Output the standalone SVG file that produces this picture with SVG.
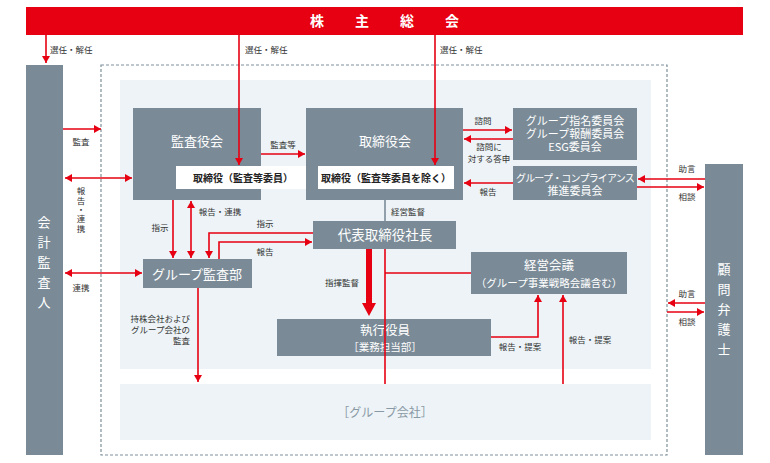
<svg xmlns="http://www.w3.org/2000/svg" width="770" height="463" viewBox="0 0 770 463">
<defs>
<marker id="ah" markerUnits="userSpaceOnUse" markerWidth="9" markerHeight="9" refX="7" refY="4" orient="auto-start-reverse"><path d="M0,0 L7,4 L0,8 z" fill="#e60012"/></marker>
<style>
.box{fill:#7a8b97}
.sub{fill:#ffffff}
.panel{fill:#edf3f7}
.ln{stroke:#e60012;stroke-width:1.6;fill:none}
.gl{stroke:#7a8b97;stroke-width:1.6;fill:none}
text{font-family:"Noto Sans CJK JP","Noto Sans",sans-serif}
.lbl{font-size:8.5px;fill:#333333}
.t{fill:#ffffff;font-size:13px;text-anchor:middle}
.s{fill:#222222;font-size:10px;font-weight:bold;text-anchor:middle}
.c{text-anchor:middle}
</style>
</defs>
<rect width="770" height="463" fill="#ffffff"/>
<rect class="panel" x="120" y="80" width="531" height="289"/>
<rect class="panel" x="120" y="384" width="531" height="56"/>
<rect x="101" y="65" width="566" height="390" fill="none" stroke="#7f909b" stroke-width="1.2" stroke-dasharray="3,2"/>

<g id="shareholders">
<rect x="26" y="7" width="717" height="28" fill="#e60012"/>
<text x="317" y="26" fill="#fff" font-size="14" font-weight="bold" text-anchor="middle">株</text>
<text x="362" y="26" fill="#fff" font-size="14" font-weight="bold" text-anchor="middle">主</text>
<text x="407" y="26" fill="#fff" font-size="14" font-weight="bold" text-anchor="middle">総</text>
<text x="452" y="26" fill="#fff" font-size="14" font-weight="bold" text-anchor="middle">会</text>
</g>

<g id="auditor">
<rect class="box" x="26" y="65" width="37" height="390"/>
<text class="t" x="44"><tspan x="44" y="227">会</tspan><tspan x="44" y="247">計</tspan><tspan x="44" y="267">監</tspan><tspan x="44" y="287">査</tspan><tspan x="44" y="307">人</tspan></text>
</g>

<g id="lawyer">
<rect class="box" x="705" y="164" width="38" height="291"/>
<text class="t" x="724"><tspan x="724" y="274">顧</tspan><tspan x="724" y="294">問</tspan><tspan x="724" y="314">弁</tspan><tspan x="724" y="334">護</tspan><tspan x="724" y="354">士</tspan></text>
</g>

<g id="kansayakukai">
<rect class="box" x="133" y="108" width="128" height="92"/>
<text class="t" x="197" y="146">監査役会</text>
<rect class="sub" x="176" y="166" width="136" height="23"/>
<text class="s" x="243" y="181.5">取締役（監査等委員）</text>
</g>

<g id="torishimariyakukai">
<rect class="box" x="306" y="108" width="157" height="92"/>
<text class="t" x="385" y="146">取締役会</text>
<rect class="sub" x="318" y="166" width="136" height="23"/>
<text class="s" x="386" y="181.5">取締役（監査等委員を除く）</text>
</g>

<g id="committees">
<rect class="box" x="513" y="108" width="124" height="52"/>
<text class="t" style="font-size:11px"><tspan x="575" y="125">グループ指名委員会</tspan><tspan x="575" y="138">グループ報酬委員会</tspan><tspan x="575" y="151">ESG委員会</tspan></text>
</g>

<g id="compliance">
<rect class="box" x="513" y="166" width="124" height="34"/>
<text class="t" style="font-size:10px" letter-spacing="-0.8" x="575" y="182">グループ・コンプライアンス</text>
<text class="t" style="font-size:11px" x="575" y="195">推進委員会</text>
</g>

<g id="audit-dept">
<rect class="box" x="143" y="259" width="109" height="29"/>
<text class="t" x="197" y="278.5">グループ監査部</text>
</g>

<g id="president">
<rect class="box" x="313" y="221" width="143" height="28"/>
<text class="t" style="font-size:13.5px" x="385" y="240">代表取締役社長</text>
</g>

<g id="keiei">
<rect class="box" x="471" y="252" width="156" height="42"/>
<text class="t" style="font-size:12.5px" x="549" y="270">経営会議</text>
<text class="t" style="font-size:10.5px" x="549" y="287">（グループ事業戦略会議含む）</text>
</g>

<g id="executive">
<rect class="box" x="277" y="319" width="214" height="37"/>
<text class="t" style="font-size:12.5px" x="385" y="335">執行役員</text>
<text class="t" style="font-size:10.5px" x="385" y="351">［業務担当部］</text>
</g>

<g id="group-companies">
<text x="385" y="417" fill="#8a9aa5" font-size="12" text-anchor="middle">［グループ会社］</text>
</g>

<g id="connectors">
<line class="ln" x1="46" y1="35" x2="46" y2="63" marker-end="url(#ah)"/>
<line class="ln" x1="239" y1="35" x2="239" y2="165" marker-end="url(#ah)"/>
<line class="ln" x1="435" y1="35" x2="435" y2="165" marker-end="url(#ah)"/>
<line class="ln" x1="63" y1="129" x2="101" y2="129" marker-end="url(#ah)"/>
<line class="ln" x1="65" y1="178" x2="132" y2="178" marker-start="url(#ah)" marker-end="url(#ah)"/>
<line class="ln" x1="65" y1="273" x2="142" y2="273" marker-start="url(#ah)" marker-end="url(#ah)"/>
<line class="ln" x1="261" y1="154" x2="305" y2="154" marker-end="url(#ah)"/>
<line class="ln" x1="463" y1="130" x2="512" y2="130" marker-end="url(#ah)"/>
<line class="ln" x1="513" y1="139" x2="464" y2="139" marker-end="url(#ah)"/>
<line class="ln" x1="513" y1="183" x2="464" y2="183" marker-end="url(#ah)"/>
<line class="ln" x1="705" y1="179" x2="638" y2="179" marker-end="url(#ah)"/>
<line class="ln" x1="637" y1="187" x2="704" y2="187" marker-end="url(#ah)"/>
<line class="ln" x1="705" y1="303" x2="668" y2="303" marker-end="url(#ah)"/>
<line class="ln" x1="667" y1="312" x2="704" y2="312" marker-end="url(#ah)"/>
<line class="ln" x1="173" y1="200" x2="173" y2="258" marker-end="url(#ah)"/>
<line class="ln" x1="191" y1="201" x2="191" y2="258" marker-start="url(#ah)" marker-end="url(#ah)"/>
<polyline class="ln" points="313,233 209,233 209,258" marker-end="url(#ah)"/>
<polyline class="ln" points="219,259 219,242 312,242" marker-end="url(#ah)"/>
<line class="gl" x1="385" y1="200" x2="385" y2="221"/>
<line x1="369" y1="249" x2="369" y2="304" stroke="#e60012" stroke-width="6"/>
<polygon points="362,303 376,303 369,316" fill="#e60012"/>
<line class="ln" x1="385" y1="249" x2="385" y2="384"/>
<line class="ln" x1="385" y1="273" x2="471" y2="273"/>
<polyline class="ln" points="491,337 538,337 538,295" marker-end="url(#ah)"/>
<line class="ln" x1="563" y1="384" x2="563" y2="295" marker-end="url(#ah)"/>
<line class="ln" x1="198" y1="288" x2="198" y2="382" marker-end="url(#ah)"/>
</g>

<g id="labels">
<text class="lbl" x="50" y="53">選任・解任</text>
<text class="lbl" x="245" y="53">選任・解任</text>
<text class="lbl" x="440" y="53">選任・解任</text>
<text class="lbl c" x="81" y="145">監査</text>
<text class="lbl" x="81" y="187" writing-mode="vertical-rl" letter-spacing="0.8">報告・連携</text>
<text class="lbl c" x="81" y="291">連携</text>
<text class="lbl c" x="283" y="148">監査等</text>
<text class="lbl c" x="483" y="124">諮問</text>
<text class="lbl c" x="489" y="150">諮問に</text>
<text class="lbl c" x="489" y="162">対する答申</text>
<text class="lbl c" x="488" y="195">報告</text>
<text class="lbl c" x="408" y="215">経営監督</text>
<text class="lbl c" x="342" y="286">指揮監督</text>
<text class="lbl c" x="160" y="231">指示</text>
<text class="lbl c" x="220" y="215">報告・連携</text>
<text class="lbl c" x="265" y="227">指示</text>
<text class="lbl c" x="265" y="255">報告</text>
<text class="lbl" text-anchor="end"><tspan x="190" y="322">持株会社および</tspan><tspan x="190" y="333">グループ会社の</tspan><tspan x="190" y="344">監査</tspan></text>
<text class="lbl c" x="520" y="350">報告・提案</text>
<text class="lbl c" x="590" y="343">報告・提案</text>
<text class="lbl c" x="687" y="172">助言</text>
<text class="lbl c" x="687" y="200">相談</text>
<text class="lbl c" x="687" y="297">助言</text>
<text class="lbl c" x="687" y="325">相談</text>
</g>
</svg>
